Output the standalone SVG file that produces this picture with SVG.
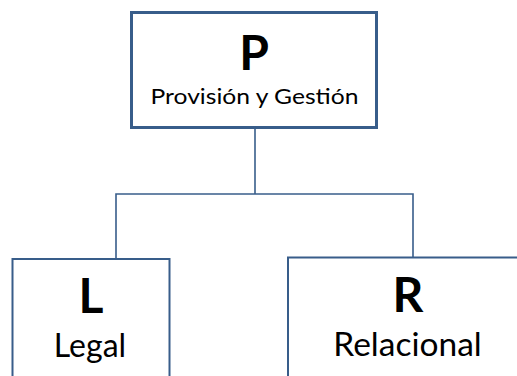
<svg xmlns="http://www.w3.org/2000/svg" width="517" height="376" viewBox="0 0 517 376">
  <style>
    .box { fill: #ffffff; stroke: #385d8a; }
    .wire { fill: none; stroke: #385d8a; stroke-width: 1.6; }
    .head { font-family: Lato, "Liberation Sans", sans-serif; font-weight: bold; font-size: 48px; fill: #000000; text-anchor: middle; }
    .sub { font-family: Lato, "Liberation Sans", sans-serif; fill: #000000; text-anchor: middle; }
  </style>
  <rect width="517" height="376" fill="#ffffff"/>
  <!-- connectors -->
  <g id="connectors">
    <path class="wire" d="M255 128 V194"/>
    <path class="wire" d="M116 259 V194 H413 V257"/>
  </g>
  <!-- top node -->
  <g id="node-p">
    <rect class="box" x="131.5" y="12.5" width="245" height="115" stroke-width="3"/>
    <text class="head" x="254" y="70">P</text>
    <text class="sub" x="254.5" y="104" font-size="21.5" textLength="208" lengthAdjust="spacingAndGlyphs">Provisión y Gestión</text>
  </g>
  <!-- left node -->
  <g id="node-l">
    <rect class="box" x="12.5" y="259" width="157" height="130" stroke-width="2"/>
    <text class="head" x="91" y="313">L</text>
    <text class="sub" x="90" y="357" font-size="32">Legal</text>
  </g>
  <!-- right node -->
  <g id="node-r">
    <rect class="box" x="288" y="257.5" width="240" height="130" stroke-width="2"/>
    <text class="head" x="408" y="312">R</text>
    <text class="sub" x="407.5" y="356" font-size="33.5">Relacional</text>
  </g>
</svg>
